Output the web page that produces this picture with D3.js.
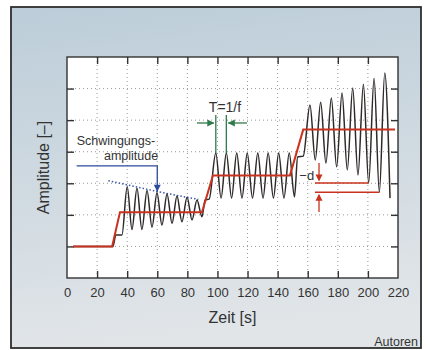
<!DOCTYPE html>
<html>
<head>
<meta charset="utf-8">
<script src="https://cdn.jsdelivr.net/npm/d3@7"></script>
<style>
  body { margin: 0; background: #fff; }
  text { font-family: "Liberation Sans", Arial, sans-serif; fill: #333; }
</style>
</head>
<body>
<svg id="chart" width="430" height="350"></svg>
<script>
// ticks
const timeTicks = [0, 20, 40, 60, 80, 100, 120, 140, 160, 180, 200, 220];
const ampTicks = [1, 2, 3, 4, 5, 6];

// setpoint (red) as [t, amplitude]
const setpoint = [
  [4, 1], [30, 1], [35.2, 2.08], [89.7, 2.08], [97, 3.25],
  [148.2, 3.25], [157, 4.7], [218, 4.7]
];

const response = [
  [4, 1], [30.5, 1], [32.5, 1.36], [36.5, 1.36],
  [40, 2.89], [43.2, 1.54], [46.5, 2.84], [49.8, 1.54], [53.2, 2.77], [56.5, 1.61],
  [59.8, 2.70], [63.1, 1.68], [66.5, 2.66], [69.8, 1.73], [73.1, 2.60], [76.4, 1.78],
  [79.8, 2.56], [83.1, 1.84], [86.4, 2.47], [89.7, 1.94],
  [91.8, 2.47], [94.5, 2.5],
  [98.9, 3.96], [102.4, 2.53], [105.9, 3.96], [109.4, 2.53], [112.8, 3.96], [116.3, 2.53],
  [119.8, 3.96], [123.3, 2.53], [126.8, 3.96], [130.3, 2.53], [133.7, 3.96], [137.2, 2.53],
  [140.7, 3.96], [144.2, 2.53], [147.7, 3.96], [151.2, 2.57],
  [153.3, 3.83], [157, 3.86],
  [161.5, 5.48], [165.0, 3.74], [168.6, 5.57], [172.1, 3.64], [175.7, 5.70], [179.2, 3.52],
  [182.8, 5.86], [186.3, 3.42], [189.9, 6.02], [193.4, 3.26], [197.0, 6.14], [200.5, 3.01],
  [204.1, 6.33], [207.6, 2.72], [211.2, 6.49], [214.7, 2.53]
];

// decay envelope (blue dotted)
const envelope = [[27.5, 3.08], [40, 2.95], [60, 2.74], [87.3, 2.49]];

// annotation anchors in data units
const ampLabel = { line: [[6.4, 3.55], [60, 3.55], [60, 2.73]] };
const periodMarks = [98.9, 105.9];          // T = 1/f between these two peaks
const periodTop = 5.16, periodPeak = 3.96, periodArrowY = 4.91;
const dLevels = [[200.5, 3.01], [207.6, 2.72]]; // troughs used for -d
const dStart = 164.8, dArrowT = 167.5;

const svg = d3.select("#chart");
const x = d3.scaleLinear().domain([0, 220]).range([67, 398]);
const y = d3.scaleLinear().domain([0, 7]).range([278, 57]);

// panel background
const defs = svg.append("defs");
const grad = defs.append("linearGradient").attr("id", "panel")
  .attr("x1", 0).attr("y1", 0).attr("x2", 0.15).attr("y2", 1);
grad.append("stop").attr("offset", "0%").attr("stop-color", "#bccdd9");
grad.append("stop").attr("offset", "100%").attr("stop-color", "#e1e5e8");

svg.append("rect").attr("x", 11).attr("y", 7).attr("width", 410).attr("height", 341)
  .attr("fill", "url(#panel)").attr("stroke", "#2e2e2e").attr("stroke-width", 1.8);

svg.append("rect").attr("x", x(0)).attr("y", y(7))
  .attr("width", x(220) - x(0)).attr("height", y(0) - y(7))
  .attr("fill", "#fff");

// grid
const grid = svg.append("g").attr("stroke", "#9a9a9a").attr("stroke-dasharray", "1,3");
grid.selectAll(".vg").data(timeTicks.slice(1, -1)).join("line")
  .attr("x1", d => x(d)).attr("x2", d => x(d)).attr("y1", y(0)).attr("y2", y(7));
grid.selectAll(".hg").data(ampTicks).join("line")
  .attr("y1", d => y(d)).attr("y2", d => y(d)).attr("x1", x(0)).attr("x2", x(220));

// axes
const inner = timeTicks.slice(1, -1);
const bottom = svg.append("g").attr("transform", `translate(0,${y(0)})`)
  .call(d3.axisBottom(x).tickValues(timeTicks).tickSizeInner(0).tickSizeOuter(0).tickPadding(10));
bottom.selectAll("text").attr("font-size", 13).attr("fill", "#333");
bottom.select(".domain").remove();
bottom.selectAll("line").remove();

const tickStyle = g => { g.select(".domain").remove(); g.selectAll("line").attr("stroke", "#333").attr("stroke-width", 1.4); g.selectAll("text").remove(); };
svg.append("g").attr("transform", `translate(0,${y(0)})`)
  .call(d3.axisBottom(x).tickValues(inner).tickSize(-7)).call(tickStyle);
svg.append("g").attr("transform", `translate(0,${y(7)})`)
  .call(d3.axisTop(x).tickValues(inner).tickSize(-7)).call(tickStyle);
svg.append("g").attr("transform", `translate(${x(0)},0)`)
  .call(d3.axisLeft(y).tickValues(ampTicks).tickSize(-7)).call(tickStyle);
svg.append("g").attr("transform", `translate(${x(220)},0)`)
  .call(d3.axisRight(y).tickValues(ampTicks).tickSize(-7)).call(tickStyle);

svg.append("rect").attr("x", x(0)).attr("y", y(7))
  .attr("width", x(220) - x(0)).attr("height", y(0) - y(7))
  .attr("fill", "none").attr("stroke", "#333").attr("stroke-width", 1.4);

// titles
svg.append("text").attr("x", (x(0) + x(220)) / 2).attr("y", 323)
  .attr("text-anchor", "middle").attr("font-size", 16).text("Zeit [s]");
svg.append("text").attr("transform", `translate(49,${(y(0) + y(7)) / 2}) rotate(-90)`)
  .attr("text-anchor", "middle").attr("font-size", 16).text("Amplitude [–]");
svg.append("text").attr("x", 418).attr("y", 346)
  .attr("text-anchor", "end").attr("font-size", 12.5).text("Autoren");

// curves
const line = d3.line().x(d => x(d[0])).y(d => y(d[1]));

svg.append("path").datum(envelope)
  .attr("d", line.curve(d3.curveMonotoneX))
  .attr("fill", "none").attr("stroke", "#3b5aa8").attr("stroke-width", 1.5)
  .attr("stroke-dasharray", "1.5,2");

svg.append("path").datum(response)
  .attr("d", line.curve(d3.curveMonotoneX))
  .attr("fill", "none").attr("stroke", "#2f2a2a").attr("stroke-width", 1.5);

svg.append("path").datum(setpoint)
  .attr("d", line.curve(d3.curveLinear))
  .attr("fill", "none").attr("stroke", "#c8321e").attr("stroke-width", 2);

// arrow helper: tip at (tx,ty), pointing dir ("up","down","left","right")
function arrow(tx, ty, dir, color) {
  const L = 7, W = 3.5;
  let p;
  if (dir === "down") p = [[tx, ty], [tx - W, ty - L], [tx + W, ty - L]];
  if (dir === "up") p = [[tx, ty], [tx - W, ty + L], [tx + W, ty + L]];
  if (dir === "right") p = [[tx, ty], [tx - L, ty - W], [tx - L, ty + W]];
  if (dir === "left") p = [[tx, ty], [tx + L, ty - W], [tx + L, ty + W]];
  svg.append("path").attr("d", "M" + p.join("L") + "Z").attr("fill", color);
}

// Schwingungsamplitude annotation
const blue = "#2b4b9b";
svg.append("path").datum(ampLabel.line)
  .attr("d", d3.line().x(d => x(d[0])).y(d => y(d[1])))
  .attr("fill", "none").attr("stroke", blue).attr("stroke-width", 1.3);
arrow(x(60), y(2.73), "down", blue);
svg.append("text").attr("x", x(6.4)).attr("y", y(4.21)).attr("font-size", 12.5).text("Schwingungs-");
svg.append("text").attr("x", x(60.6)).attr("y", y(3.74)).attr("text-anchor", "end")
  .attr("font-size", 12.5).text("amplitude");

// T = 1/f annotation
const green = "#2f7a4a";
svg.selectAll(".tm").data(periodMarks).join("line")
  .attr("x1", d => x(d)).attr("x2", d => x(d))
  .attr("y1", y(periodTop)).attr("y2", y(periodPeak))
  .attr("stroke", green).attr("stroke-width", 1.3);
svg.append("line").attr("x1", x(86.4)).attr("x2", x(periodMarks[0]) - 2)
  .attr("y1", y(periodArrowY)).attr("y2", y(periodArrowY)).attr("stroke", green).attr("stroke-width", 1.3);
arrow(x(periodMarks[0]) - 1.5, y(periodArrowY), "right", green);
svg.append("line").attr("x1", x(119.6)).attr("x2", x(periodMarks[1]) + 2)
  .attr("y1", y(periodArrowY)).attr("y2", y(periodArrowY)).attr("stroke", green).attr("stroke-width", 1.3);
arrow(x(periodMarks[1]) + 1.5, y(periodArrowY), "left", green);
svg.append("text").attr("x", x(105)).attr("y", y(5.26)).attr("text-anchor", "middle")
  .attr("font-size", 14).text("T=1/f");

// -d annotation
const red = "#c8321e";
svg.selectAll(".dl").data(dLevels).join("line")
  .attr("x1", x(dStart)).attr("x2", d => x(d[0]))
  .attr("y1", d => y(d[1])).attr("y2", d => y(d[1]))
  .attr("stroke", red).attr("stroke-width", 1.5);
svg.append("line").attr("x1", x(dArrowT)).attr("x2", x(dArrowT))
  .attr("y1", y(3.64)).attr("y2", y(dLevels[0][1]) - 3).attr("stroke", red).attr("stroke-width", 1.3);
arrow(x(dArrowT), y(dLevels[0][1]) - 1.5, "down", red);
svg.append("line").attr("x1", x(dArrowT)).attr("x2", x(dArrowT))
  .attr("y1", y(2.09)).attr("y2", y(dLevels[1][1]) + 3).attr("stroke", red).attr("stroke-width", 1.3);
arrow(x(dArrowT), y(dLevels[1][1]) + 1.5, "up", red);
svg.append("text").attr("x", x(164.3)).attr("y", y(3.1)).attr("text-anchor", "end")
  .attr("font-size", 13).text("−d");
</script>
</body>
</html>
